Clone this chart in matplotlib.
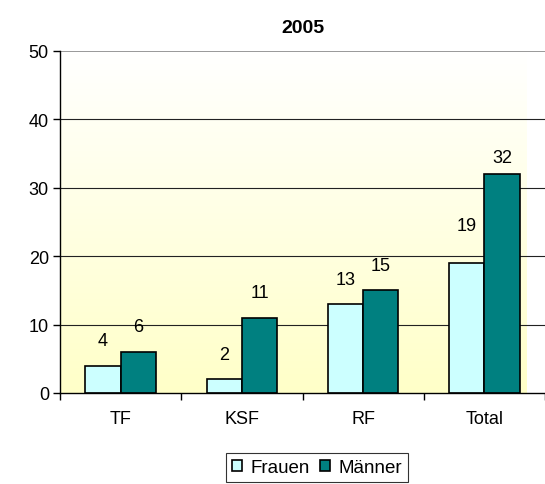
import matplotlib.pyplot as plt
import numpy as np
from matplotlib.colors import LinearSegmentedColormap

plt.rcParams['font.family'] = ['Liberation Sans', 'DejaVu Sans']

categories = ['TF', 'KSF', 'RF', 'Total']
frauen = [4, 2, 13, 19]
maenner = [6, 11, 15, 32]
title = '2005'

# label distance above bar top (pixels), as placed in the original
off_frauen = [25, 25, 25, 38]
off_maenner = [25, 25, 25, 17]

fig = plt.figure(figsize=(5.45, 4.85), dpi=100)
ax = fig.add_axes([60 / 545, 1 - 394 / 485, 485 / 545, 342 / 485])

x = np.arange(len(categories))
w = 0.29
xmax = -0.5 + 485 / 126

# gradient background: white at top, light yellow at bottom
cmap = LinearSegmentedColormap.from_list('bg', ['#FFFFC8', '#FFFFFF'])
grad = np.linspace(0, 1, 256).reshape(-1, 1)
ax.imshow(grad, aspect='auto', cmap=cmap, origin='lower',
          extent=[-0.5, xmax, 0, 50], zorder=0)

for y in [10, 20, 30, 40]:
    ax.axhline(y, color='#222222', lw=0.8, zorder=1)
ax.axhline(50, color='#888888', lw=1.2, zorder=1)

b1 = ax.bar(x - w / 2, frauen, w, color='#CCFFFF', edgecolor='black', lw=1.2,
            label='Frauen', zorder=2)
b2 = ax.bar(x + w / 2, maenner, w, color='#008080', edgecolor='black', lw=1.2,
            label='Männer', zorder=2)

for bars, vals, offs in [(b1, frauen, off_frauen), (b2, maenner, off_maenner)]:
    for r, v, o in zip(bars, vals, offs):
        ax.annotate(str(v), (r.get_x() + r.get_width() / 2, v),
                    xytext=(0, o * 0.72), textcoords='offset points',
                    ha='center', va='center', fontsize=13)

ax.set_xlim(-0.5, xmax)
ax.set_ylim(0, 50)
ax.set_yticks([0, 10, 20, 30, 40, 50])
ax.tick_params(axis='y', labelsize=13, length=5, width=1, direction='out', pad=3)
ax.set_xticks(np.arange(-0.5, 3.6, 1))
ax.set_xticklabels([])
ax.set_xticks(x, minor=True)
ax.set_xticklabels(categories, minor=True)
ax.tick_params(axis='x', which='major', length=5, width=1, direction='out')
ax.tick_params(axis='x', which='minor', length=0, labelsize=13, pad=12)

for s in ['top', 'right']:
    ax.spines[s].set_visible(False)
ax.spines['left'].set_linewidth(1)
ax.spines['bottom'].set_linewidth(1)

ax.set_title(title, fontsize=14, fontweight='bold', pad=14)

leg = fig.legend(handles=[b1, b2], loc='lower center', bbox_to_anchor=(317 / 545, 2 / 485),
                 ncol=2, fontsize=13.5, frameon=True, fancybox=False,
                 handlelength=0.55, handleheight=0.55, handletextpad=0.45,
                 columnspacing=0.5, borderpad=0.32, borderaxespad=0,
                 edgecolor='black')
leg.get_frame().set_linewidth(0.8)

fig.savefig('out.png', dpi=100)
